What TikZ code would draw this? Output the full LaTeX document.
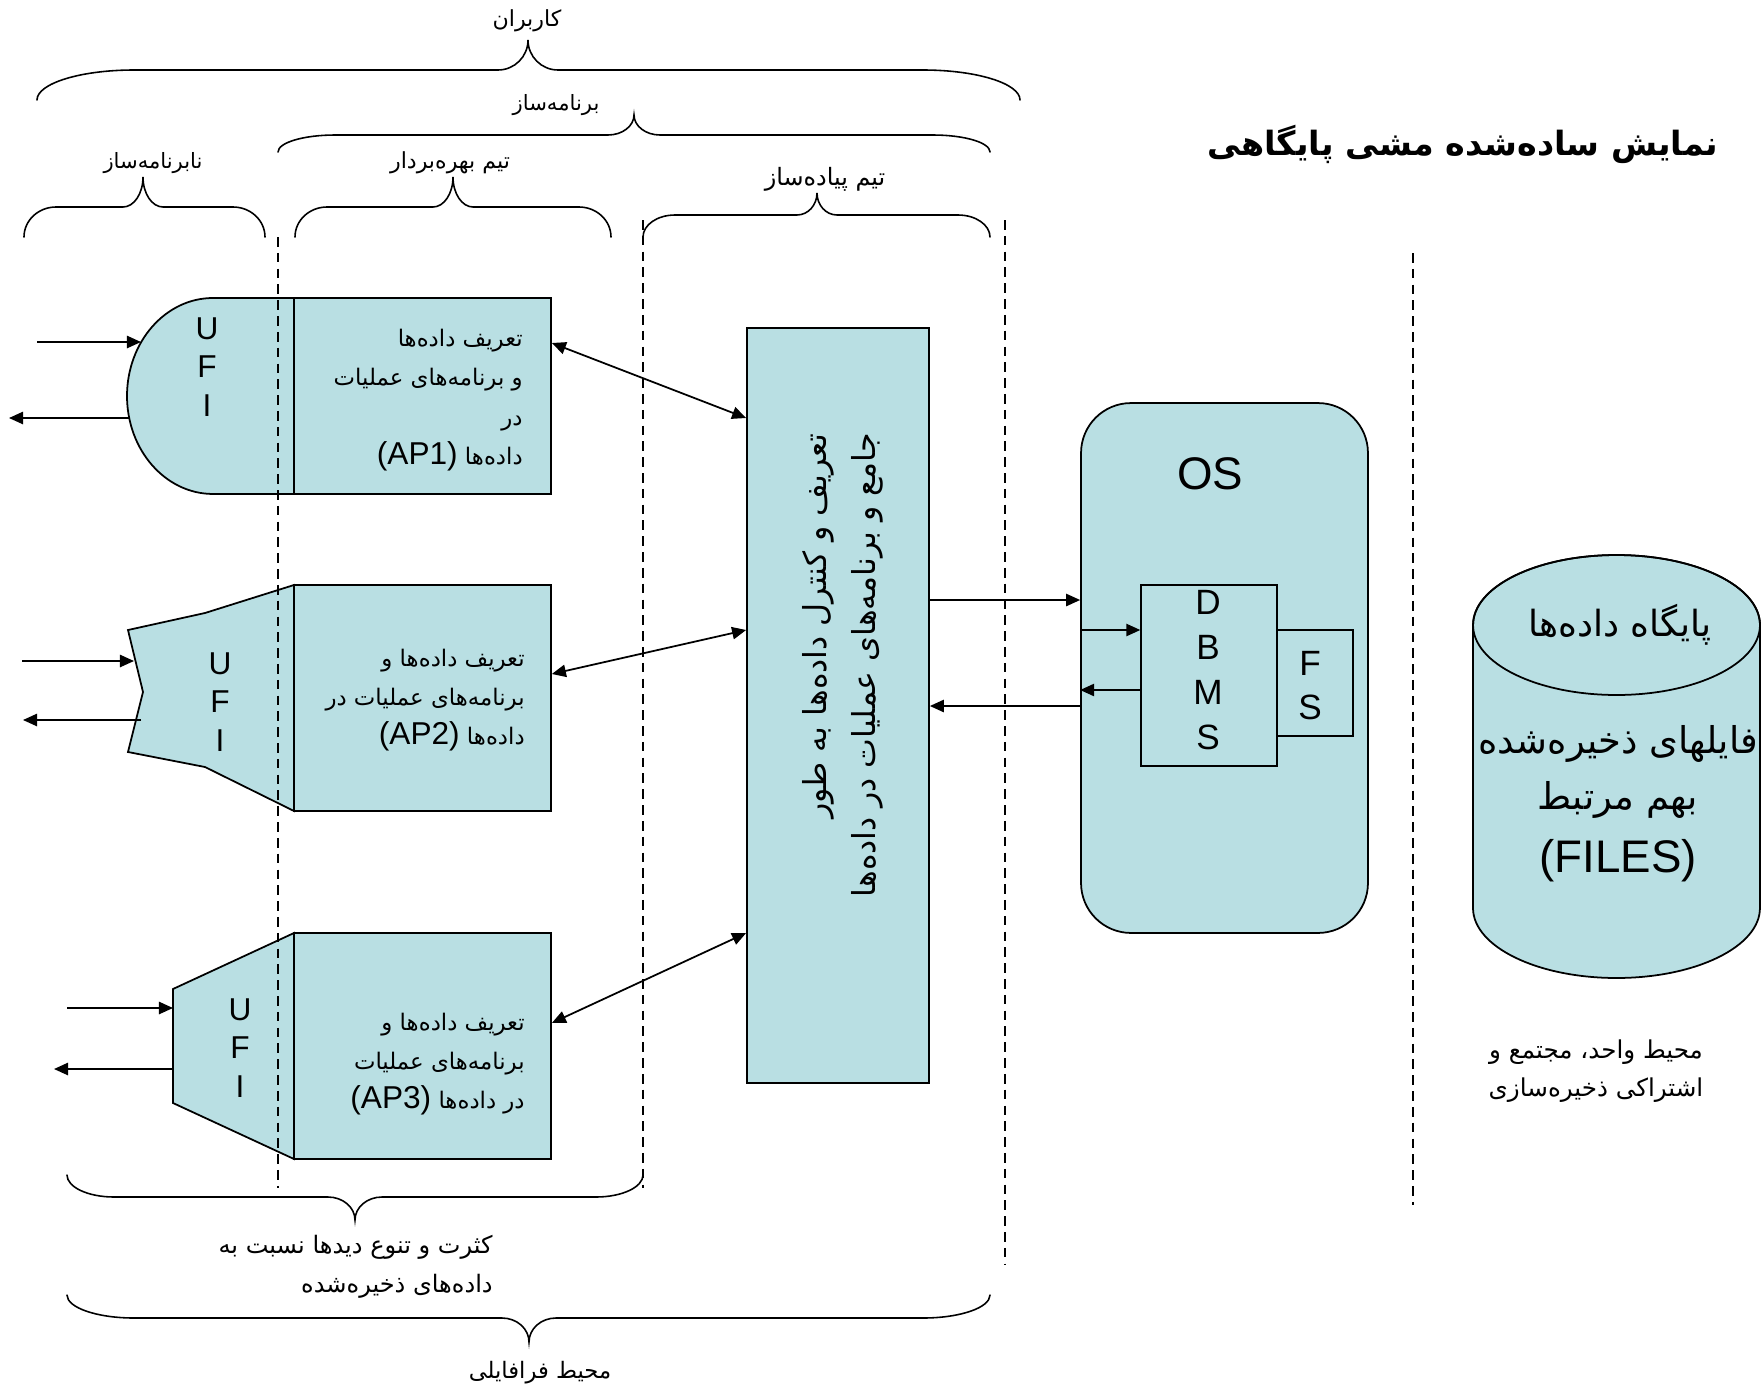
\documentclass[tikz,border=0pt]{standalone}
\usepackage{fontspec}
\setmainfont{Liberation Sans}
\newfontfamily\arabicfont[Script=Arabic]{DejaVu Sans}
\usetikzlibrary{arrows.meta,calc}
\TeXXeTstate=1
\definecolor{boxfill}{RGB}{185,223,227}
\newcommand{\fatx}[1]{\beginR #1\endR}
\newcommand{\lat}[2][18]{\beginL{\normalfont\fontsize{#1}{22}\selectfont #2}\endL}
\newcommand{\curlyb}[8]{%
  \draw[bracestyle] (#1,#4) .. controls ({#1},{#4+0.552*(#5-#4)}) and ({#1+0.448*#7},{#5}) .. ({#1+#7},{#5})
    -- ({#3-#8},{#5}) .. controls ({#3-0.448*#8},{#5}) and ({#3},{#6+0.552*(#5-#6)}) .. (#3,#6)
    .. controls ({#3},{#6+0.552*(#5-#6)}) and ({#3+0.448*#8},{#5}) .. ({#3+#8},{#5})
    -- ({#2-#7},{#5}) .. controls ({#2-0.448*#7},{#5}) and ({#2},{#4+0.552*(#5-#4)}) .. (#2,#4);}
\begin{document}
\begin{tikzpicture}[x=0.02cm,y=-0.02cm,
  shapebox/.style={draw=black, line width=1pt, fill=boxfill},
  thinbox/.style={draw=black, line width=0.8pt, fill=boxfill, rectangle, inner sep=0pt},
  arr/.style={line width=1pt, -{Triangle[length=8pt,width=7pt]}},
  darr/.style={line width=1pt, {Triangle[length=8pt,width=7pt]}-{Triangle[length=8pt,width=7pt]}},
  dashline/.style={line width=0.7pt, dash pattern=on 5.5pt off 3.5pt},
  bracestyle/.style={line width=0.9pt, line cap=round},
  fabox/.style={font={\arabicfont\fontsize{13}{22.4}\selectfont}, align=right, inner sep=0pt},
  falabel/.style={font={\arabicfont\fontsize{12.6}{22}\selectfont}, inner sep=0pt},
  ufi/.style={font={\fontsize{18}{22}\selectfont}, align=center, inner sep=0pt}]
\useasboundingbox (0,0) rectangle (1762,1390);

% ---- UFI shapes
\filldraw[shapebox] (294,298) -- (213,298) arc[start angle=90,end angle=270,x radius=1.72cm,y radius=1.96cm] -- (294,494) -- cycle;
\filldraw[shapebox] (294,585) -- (205,613) -- (128,630) -- (143,692) -- (128,752) -- (205,767) -- (294,811) -- cycle;
\filldraw[shapebox] (294,933) -- (173,989) -- (173,1103) -- (294,1159) -- cycle;

% ---- AP boxes
\node[shapebox, rectangle, inner sep=0pt, minimum width=5.14cm, minimum height=3.92cm] (ap1) at (422.5,396) {};
\node[shapebox, rectangle, inner sep=0pt, minimum width=5.14cm, minimum height=4.52cm] (ap2) at (422.5,698) {};
\node[shapebox, rectangle, inner sep=0pt, minimum width=5.14cm, minimum height=4.52cm] (ap3) at (422.5,1046) {};

% ---- central box
\node[shapebox, rectangle, inner sep=0pt, minimum width=3.64cm, minimum height=15.1cm] (central) at (838,705.5) {};

% ---- OS
\node[shapebox, rectangle, rounded corners=1.0cm, inner sep=0pt, minimum width=5.74cm, minimum height=10.6cm] (os) at (1224.5,668) {};
\node[thinbox, minimum width=1.52cm, minimum height=2.12cm] (fs) at (1315,683) {};
\node[thinbox, minimum width=2.72cm, minimum height=3.62cm] (dbms) at (1209,675.5) {};

% ---- cylinder
\filldraw[shapebox] (1473,625) -- (1473,908) arc[start angle=180,end angle=360,x radius=2.87cm,y radius=1.4cm] -- (1760,625) arc[start angle=0,end angle=180,x radius=2.87cm,y radius=1.4cm] -- cycle;
\draw[line width=1pt] (1616.5,625) ellipse[x radius=2.87cm,y radius=1.4cm];

% ---- dashed lines
\draw[dashline] (278,237) -- (278,1188);
\draw[dashline] (643,220) -- (643,1188);
\draw[dashline] (1005,220) -- (1005,1264);
\draw[dashline] (1413,253) -- (1413,1205);

% ---- texts in shapes
\node[ufi] (u1) at (207,367) {U\\F\\I};
\node[ufi] (u2) at (220,702) {U\\F\\I};
\node[ufi] (u3) at (240,1048) {U\\F\\I};

\node[fabox, anchor=east] (ap1t) at (523,400) {\fatx{تعریف داده‌ها}\\ \fatx{و برنامه‌های عملیات}\\ \fatx{در}\\ \fatx{داده‌ها \lat{(AP1)}}};
\node[fabox, anchor=east] (ap2t) at (525,700) {\fatx{تعریف داده‌ها و}\\ \fatx{برنامه‌های عملیات در}\\ \fatx{داده‌ها \lat{(AP2)}}};
\node[fabox, anchor=east] (ap3t) at (525,1064) {\fatx{تعریف داده‌ها و}\\ \fatx{برنامه‌های عملیات}\\ \fatx{در داده‌ها \lat{(AP3)}}};

\node[font={\arabicfont\fontsize{18}{28}\selectfont}, align=right, inner sep=0pt, rotate=90, anchor=east] (ctext) at (843,433) {\fatx{تعریف و کنترل داده‌ها به طور}\\ \fatx{جامع و برنامه‌های عملیات در داده‌ها}};

\node[font={\fontsize{26}{30}\selectfont}, inner sep=0pt] (ostext) at (1210,474) {OS};
\node[font={\fontsize{20}{25.6}\selectfont}, align=center, inner sep=0pt] (dbmstext) at (1208,670) {D\\B\\M\\S};
\node[font={\fontsize{20}{25}\selectfont}, align=center, inner sep=0pt] (fstext) at (1310,686) {F\\S};

\node[font={\arabicfont\fontsize{20.5}{24}\selectfont}, inner sep=0pt] (cyl1) at (1620,625) {\fatx{پایگاه داده‌ها}};
\node[font={\arabicfont\fontsize{21}{26}\selectfont}, inner sep=0pt] (cyl2) at (1618,744) {\fatx{فایلهای ذخیره‌شده}};
\node[font={\arabicfont\fontsize{21}{26}\selectfont}, inner sep=0pt] (cyl3) at (1618,800) {\fatx{بهم مرتبط}};
\node[font={\fontsize{26}{30}\selectfont}, inner sep=0pt] (cyl4) at (1618,861) {(FILES)};

\node[font={\arabicfont\fontsize{14}{22}\selectfont}, align=center, inner sep=0pt] (envlbl) at (1596,1071) {\fatx{محیط واحد، مجتمع و}\\ \fatx{اشتراکی ذخیره‌سازی}};

\node[font={\arabicfont\bfseries\fontsize{19}{24}\selectfont}, inner sep=0pt] (title) at (1463,144) {\fatx{نمایش ساده‌شده مشی پایگاهی}};

% ---- arrows at UFI
\coordinate (i1a) at (37,342);  \coordinate (i1b) at (141,342);
\coordinate (o1a) at (129,418); \coordinate (o1b) at (9,418);
\coordinate (i2a) at (22,661);  \coordinate (i2b) at (134,661);
\coordinate (o2a) at (141,720); \coordinate (o2b) at (23,720);
\coordinate (i3a) at (67,1008); \coordinate (i3b) at (173,1008);
\coordinate (o3a) at (173,1069); \coordinate (o3b) at (54,1069);
\draw[arr] (i1a) -- (i1b);
\draw[arr] (o1a) -- (o1b);
\draw[arr] (i2a) -- (i2b);
\draw[arr] (o2a) -- (o2b);
\draw[arr] (i3a) -- (i3b);
\draw[arr] (o3a) -- (o3b);

% ---- AP <-> central
\draw[darr] (ap1.east |- 0,343) -- (central.west |- 0,418);
\draw[darr] (ap2.east |- 0,674) -- (central.west |- 0,630);
\draw[darr] (ap3.east |- 0,1023) -- (central.west |- 0,933);

% ---- central <-> OS
\draw[arr] (central.east |- 0,600) -- (os.west |- 0,600);
\draw[arr] (os.west |- 0,706) -- (central.east |- 0,706);
\draw[arr] (os.west |- 0,630) -- (dbms.west |- 0,630);
\draw[arr] (dbms.west |- 0,690) -- (os.west |- 0,690);

% ---- braces and labels
\curlyb{37}{1020}{528}{100}{70}{40}{97}{30}
\curlyb{278}{990}{634}{152}{135}{115}{57}{26}
\curlyb{24}{265}{143}{237}{207}{177}{32}{20}
\curlyb{295}{611}{453}{237}{207}{177}{32}{20}
\curlyb{643}{990}{817}{237}{215}{193}{32}{20}
\curlyb{67}{643}{355}{1175}{1197}{1220}{47}{27}
\curlyb{67}{990}{529}{1295}{1318}{1342}{67}{27}

\node[falabel] (l1) at (527,21) {\fatx{کاربران}};
\node[falabel, font={\arabicfont\fontsize{12}{22}\selectfont}] (l2) at (556,105) {\fatx{برنامه‌ساز}};
\node[falabel, font={\arabicfont\fontsize{12}{22}\selectfont}] (l3) at (153,163) {\fatx{نابرنامه‌ساز}};
\node[falabel] (l4) at (450,163) {\fatx{تیم بهره‌بردار}};
\node[falabel, font={\arabicfont\fontsize{13.6}{22}\selectfont}] (l5) at (825,179) {\fatx{تیم پیاده‌ساز}};
\node[falabel, font={\arabicfont\fontsize{13.7}{22.5}\selectfont}, align=right, anchor=east] (l6) at (493,1267) {\fatx{کثرت و تنوع دیدها نسبت به}\\ \fatx{داده‌های ذخیره‌شده}};
\node[falabel, font={\arabicfont\fontsize{12.9}{22}\selectfont}] (l7) at (540,1373) {\fatx{محیط فرافایلی}};
\end{tikzpicture}
\end{document}
